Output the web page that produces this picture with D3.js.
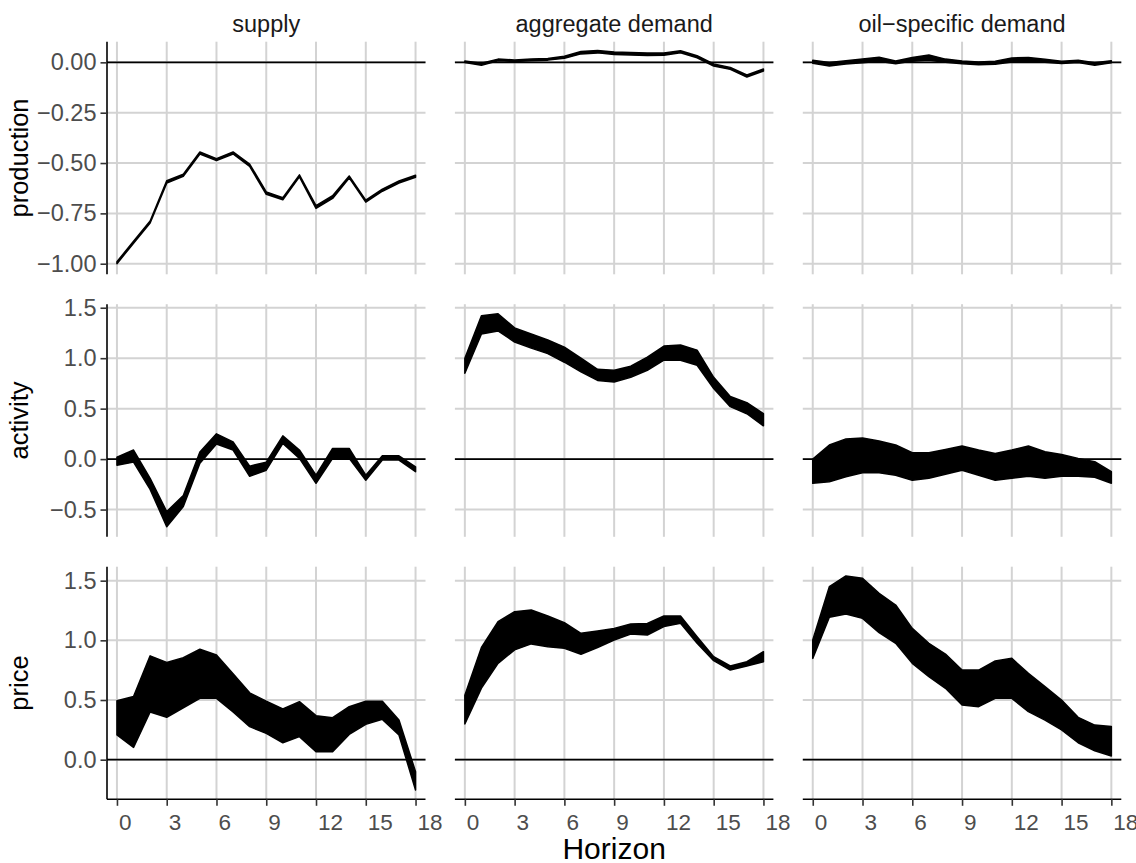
<!DOCTYPE html>
<html>
<head>
<meta charset="utf-8">
<script src="https://cdn.jsdelivr.net/npm/d3@7"></script>
<style>
  html, body { margin: 0; padding: 0; background: #ffffff; }
  svg { display: block; font-family: "Liberation Sans", Arial, Helvetica, sans-serif; }
</style>
</head>
<body>
<svg id="chart" width="1136" height="863"></svg>
<script>
// Impulse responses by shock (columns) and variable (rows), horizons 0..18
const shocks = ["supply", "aggregate demand", "oil\u2212specific demand"];
const variables = ["production", "activity", "price"];
const horizons = d3.range(0, 19);
const xTicks = [0, 3, 6, 9, 12, 15, 18];

// y tick values per row
const yTicksProduction = [-1.0, -0.75, -0.5, -0.25, 0.0];
const yTicksActivity = [-0.5, 0.0, 0.5, 1.0, 1.5];
const yTicksPrice = [0.0, 0.5, 1.0, 1.5];

// y limits per row (free y scales)
const yLimitsProduction = [-1.0525, 0.1025];
const yLimitsActivity = [-0.77, 1.535];
const yLimitsPrice = [-0.332, 1.617];

// production responses: lower / upper bounds
const supplyProductionLower = [-1.000,-0.898,-0.798,-0.600,-0.566,-0.455,-0.488,-0.455,-0.517,-0.655,-0.682,-0.569,-0.725,-0.676,-0.574,-0.694,-0.640,-0.599,-0.571];
const supplyProductionUpper = [-0.990,-0.888,-0.788,-0.588,-0.556,-0.445,-0.478,-0.445,-0.505,-0.643,-0.672,-0.559,-0.711,-0.662,-0.564,-0.684,-0.630,-0.589,-0.561];
const demandProductionLower = [-0.001,-0.015,0.008,0.004,0.008,0.011,0.020,0.042,0.047,0.039,0.037,0.034,0.035,0.048,0.023,-0.018,-0.035,-0.073,-0.043];
const demandProductionUpper = [0.007,-0.005,0.016,0.012,0.016,0.019,0.030,0.054,0.059,0.051,0.049,0.046,0.047,0.058,0.033,-0.008,-0.025,-0.063,-0.033];
const oilProductionLower = [-0.004,-0.018,-0.008,-0.002,0.005,-0.007,0.006,0.010,0.000,-0.007,-0.012,-0.010,0.002,0.006,0.001,-0.006,-0.001,-0.014,-0.002];
const oilProductionUpper = [0.010,-0.001,0.008,0.016,0.025,0.007,0.024,0.036,0.016,0.007,0.002,0.006,0.022,0.024,0.015,0.006,0.011,-0.002,0.008];

// activity responses
const supplyActivityLower = [-0.06,-0.03,-0.30,-0.67,-0.47,-0.04,0.15,0.09,-0.17,-0.11,0.155,0.007,-0.24,0.007,0.007,-0.21,-0.01,-0.01,-0.125];
const supplyActivityUpper = [0.02,0.09,-0.19,-0.52,-0.36,0.07,0.25,0.17,-0.07,-0.03,0.23,0.09,-0.16,0.105,0.105,-0.16,0.033,0.033,-0.076];
const demandActivityLower = [0.85,1.24,1.27,1.16,1.10,1.045,0.96,0.865,0.78,0.765,0.81,0.88,0.98,0.98,0.93,0.70,0.52,0.45,0.33];
const demandActivityUpper = [1.00,1.42,1.44,1.30,1.24,1.18,1.11,1.00,0.89,0.88,0.92,1.01,1.12,1.13,1.08,0.81,0.62,0.56,0.45];
const oilActivityLower = [-0.24,-0.225,-0.175,-0.135,-0.135,-0.16,-0.21,-0.19,-0.15,-0.11,-0.16,-0.21,-0.19,-0.17,-0.19,-0.17,-0.17,-0.18,-0.24];
const oilActivityUpper = [0.0,0.14,0.20,0.21,0.18,0.14,0.063,0.063,0.095,0.13,0.09,0.056,0.09,0.13,0.073,0.046,0.007,-0.026,-0.125];

// price responses
const supplyPriceLower = [0.207,0.103,0.40,0.355,0.435,0.514,0.514,0.40,0.277,0.22,0.142,0.193,0.067,0.067,0.212,0.296,0.338,0.207,-0.254];
const supplyPriceUpper = [0.494,0.53,0.87,0.815,0.855,0.925,0.877,0.72,0.56,0.49,0.425,0.486,0.369,0.352,0.444,0.49,0.49,0.332,-0.10];
const demandPriceLower = [0.30,0.60,0.807,0.92,0.97,0.947,0.933,0.883,0.94,1.003,1.053,1.045,1.115,1.142,0.975,0.83,0.751,0.785,0.821];
const demandPriceUpper = [0.54,0.94,1.156,1.24,1.254,1.204,1.148,1.059,1.078,1.10,1.137,1.142,1.204,1.204,1.03,0.863,0.785,0.821,0.905];
const oilPriceLower = [0.849,1.193,1.22,1.184,1.064,0.975,0.807,0.695,0.598,0.458,0.444,0.514,0.514,0.402,0.332,0.249,0.142,0.075,0.031];
const oilPriceUpper = [1.003,1.45,1.54,1.52,1.394,1.296,1.10,0.975,0.885,0.751,0.751,0.827,0.849,0.723,0.612,0.50,0.355,0.29,0.277];

// assemble grid of bands: rows = variables, cols = shocks
const bands = [
  [[supplyProductionLower, supplyProductionUpper], [demandProductionLower, demandProductionUpper], [oilProductionLower, oilProductionUpper]],
  [[supplyActivityLower, supplyActivityUpper], [demandActivityLower, demandActivityUpper], [oilActivityLower, oilActivityUpper]],
  [[supplyPriceLower, supplyPriceUpper], [demandPriceLower, demandPriceUpper], [oilPriceLower, oilPriceUpper]]
];
const rowTicks = [yTicksProduction, yTicksActivity, yTicksPrice];
const rowLimits = [yLimitsProduction, yLimitsActivity, yLimitsPrice];
const rowFormats = [".2f", ".1f", ".1f"];

// layout
const gridLeft = 107, gridTop = 41.7;
const panelW = 318.5, panelH = 232.6;
const gapX = 29.4, gapY = 29.9;

const svg = d3.select("#chart");
const minus = s => s.replace("-", "\u2212");

const x = d3.scaleLinear().domain([-0.6, 18.6]).range([0, panelW]);

const gridColor = "#d3d3d3";

rowLimits.forEach((lim, r) => {
  const y = d3.scaleLinear().domain(lim).range([panelH, 0]);
  const fmt = d3.format(rowFormats[r]);

  shocks.forEach((shock, c) => {
    const px = gridLeft + c * (panelW + gapX);
    const py = gridTop + r * (panelH + gapY);
    const g = svg.append("g").attr("transform", `translate(${px},${py})`);

    // grid lines
    g.selectAll("line.gx").data(xTicks).join("line")
      .attr("class", "gx")
      .attr("x1", d => x(d)).attr("x2", d => x(d))
      .attr("y1", 0).attr("y2", panelH)
      .attr("stroke", gridColor).attr("stroke-width", 2);
    g.selectAll("line.gy").data(rowTicks[r]).join("line")
      .attr("class", "gy")
      .attr("x1", 0).attr("x2", panelW)
      .attr("y1", d => y(d)).attr("y2", d => y(d))
      .attr("stroke", gridColor).attr("stroke-width", 2);

    // confidence band
    const [lo, hi] = bands[r][c];
    const pts = horizons.map((h, i) => ({ h, lo: lo[i], hi: hi[i] }));
    const area = d3.area()
      .x(d => x(d.h))
      .y0(d => y(d.lo))
      .y1(d => y(d.hi));
    g.append("path").datum(pts)
      .attr("d", area)
      .attr("fill", "#000000")
      .attr("stroke", "#000000")
      .attr("stroke-width", 1.5)
      .attr("stroke-linejoin", "round");

    // zero reference line
    g.append("line")
      .attr("x1", 0).attr("x2", panelW)
      .attr("y1", y(0)).attr("y2", y(0))
      .attr("stroke", "#000000").attr("stroke-width", 1.7);

    // left axis on first column
    if (c === 0) {
      const ax = g.append("g").call(
        d3.axisLeft(y).tickValues(rowTicks[r]).tickSize(6.5).tickPadding(4)
          .tickFormat(d => minus(fmt(d)))
      );
      ax.select(".domain").attr("stroke", "#000000").attr("stroke-width", 1.6)
        .attr("d", `M0,0V${panelH}`);
      ax.selectAll(".tick line").attr("stroke", "#333333").attr("stroke-width", 1.6);
      ax.selectAll(".tick text")
        .attr("fill", "#4d4d4d")
        .style("font-size", "23.5px")
        .style("font-family", "'Liberation Sans', Arial, sans-serif");

      // row title
      svg.append("text")
        .attr("transform", `translate(28,${py + panelH / 2}) rotate(-90)`)
        .attr("text-anchor", "middle")
        .attr("fill", "#000000")
        .style("font-size", "25.5px")
        .text(variables[r]);
    }

    // bottom axis on last row
    if (r === rowLimits.length - 1) {
      const ax = g.append("g").attr("transform", `translate(0,${panelH})`).call(
        d3.axisBottom(x).tickValues(xTicks).tickSize(6.5).tickPadding(8)
          .tickFormat(d3.format("d"))
      );
      ax.select(".domain").attr("stroke", "#000000").attr("stroke-width", 1.6)
        .attr("d", `M0,0H${panelW}`);
      ax.selectAll(".tick line").attr("stroke", "#333333").attr("stroke-width", 1.6);
      ax.selectAll(".tick text")
        .attr("fill", "#4d4d4d")
        .attr("text-anchor", "start")
        .attr("x", 1.5)
        .style("font-size", "22.5px")
        .style("font-family", "'Liberation Sans', Arial, sans-serif");
    }

    // strip label on first row
    if (r === 0) {
      svg.append("text")
        .attr("x", px + panelW / 2)
        .attr("y", 31.5)
        .attr("text-anchor", "middle")
        .attr("fill", "#1a1a1a")
        .style("font-size", "23.5px")
        .text(shock);
    }
  });
});

// x-axis title
svg.append("text")
  .attr("x", gridLeft + (3 * panelW + 2 * gapX) / 2)
  .attr("y", 858.5)
  .attr("text-anchor", "middle")
  .attr("fill", "#000000")
  .style("font-size", "30px")
  .text("Horizon");
</script>
</body>
</html>
